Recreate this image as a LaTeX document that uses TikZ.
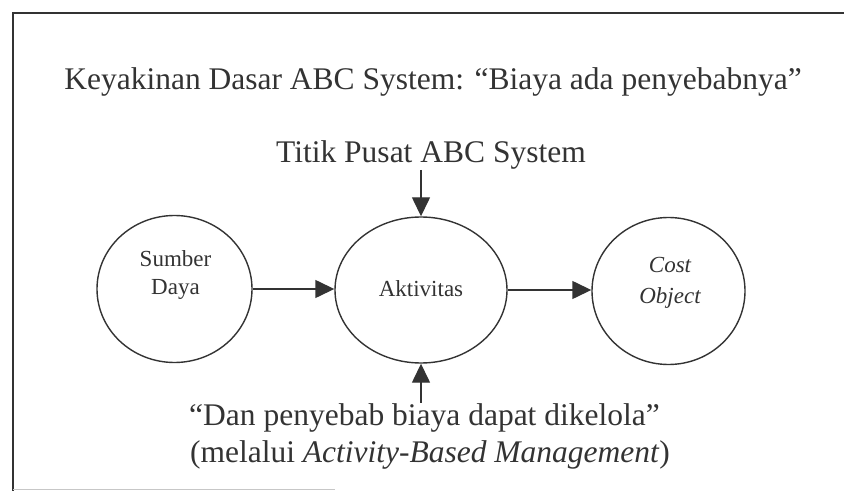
\documentclass[tikz,border=0pt]{standalone}
\usepackage{fontspec}
\setmainfont{Liberation Serif}
\usetikzlibrary{shapes.geometric,arrows.meta}
\definecolor{ink}{HTML}{333333}
\begin{document}
\begin{tikzpicture}[x=1bp,y=-1bp,
  bubble/.style={ellipse, draw=ink, line width=1.4bp, inner sep=0pt},
  big/.style={font=\fontsize{31.5bp}{37bp}\selectfont, text=ink, inner sep=0pt},
  small/.style={font=\fontsize{23bp}{28bp}\selectfont, text=ink, inner sep=0pt},
  flow/.style={draw=ink, line width=1.4bp, -{Triangle[length=19bp,width=18bp]}},
]
\useasboundingbox (0,0) rectangle (844,491);

% frame
\draw[ink, line width=1.5bp] (844,13) -- (13,13) -- (13,491);
\draw[black!22, line width=0.8bp] (13,489) -- (335,489);

% the three stages
\node[bubble, minimum width=155bp, minimum height=147bp] (sd) at (174.5,289) {};
\node[bubble, minimum width=172bp, minimum height=146bp] (akt) at (421,290) {};
\node[bubble, minimum width=153bp, minimum height=147bp] (co) at (668.5,291) {};

\node[small, anchor=base] (sd1) at (175.5,267) {Sumber};
\node[small, anchor=base] (sd2) at (175.5,295) {Daya};
\node[small, anchor=base] (akt1) at (421,297) {Aktivitas};
\node[small, anchor=base] (co1) at (670,273) {\itshape Cost};
\node[small, anchor=base] (co2) at (670,304) {\itshape Object};

% headings
\node[big, anchor=base] (title) at (433,90) {Keyakinan Dasar ABC System: “Biaya ada penyebabnya”};
\node[big, anchor=base] (tp) at (431,163) {Titik Pusat ABC System};
\node[big, anchor=base] (b1) at (424.5,425) {“Dan penyebab biaya dapat dikelola”};
\node[big, anchor=base] (b2) at (430,462) {(melalui \textit{Activity-Based Management})};

% connectors
\draw[flow] (sd.east) -- (sd.east -| akt.west);
\draw[flow] (akt.east) -- (akt.east -| co.west);
\draw[flow] (tp.south -| akt.north) -- (akt.north);
\draw[flow] (b1.north -| akt.south) -- (akt.south);
\end{tikzpicture}
\end{document}
